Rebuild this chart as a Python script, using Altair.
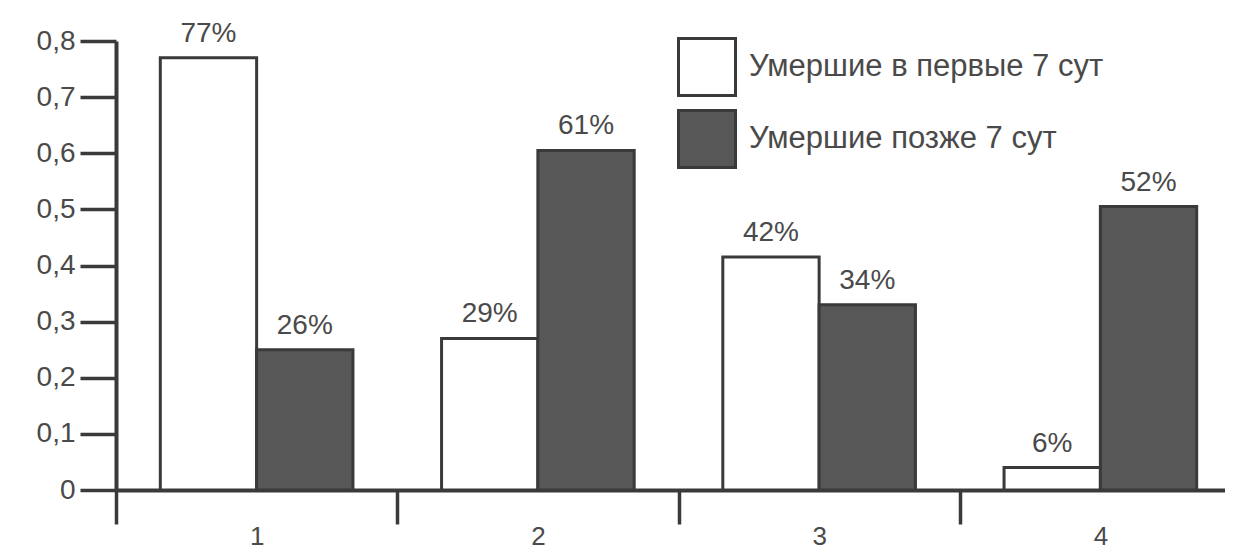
import altair as alt
import pandas as pd

groups = ["1", "2", "3", "4"]
series = ["Умершие в первые 7 сут", "Умершие позже 7 сут"]
early_heights = [0.77, 0.27, 0.415, 0.04]
late_heights = [0.25, 0.605, 0.33, 0.505]
early_labels = ["77%", "29%", "42%", "6%"]
late_labels = ["26%", "61%", "34%", "52%"]
y_ticks = [0, 0.1, 0.2, 0.3, 0.4, 0.5, 0.6, 0.7, 0.8]

rows = []
for i, g in enumerate(groups):
    rows.append(dict(group=g, series=series[0], value=early_heights[i], label=early_labels[i]))
    rows.append(dict(group=g, series=series[1], value=late_heights[i], label=late_labels[i]))
df = pd.DataFrame(rows)

FONT = "Liberation Sans"
AX = "#3a3a3a"
TXT = "#4a4a4a"

x = alt.X(
    "group:N", sort=groups,
    scale=alt.Scale(paddingInner=0, paddingOuter=0, range=[0, 1125]),
    axis=alt.Axis(title=None, labelAngle=0, tickBand="extent", tickSize=34, tickWidth=3.5,
                  tickColor=AX, domainColor=AX, domainWidth=4, labelFontSize=26,
                  labelColor=TXT, labelFont=FONT, labelPadding=-1, grid=False),
)
xo = alt.XOffset("series:N", sort=series, scale=alt.Scale(paddingInner=0, paddingOuter=0.46))
y = alt.Y(
    "value:Q",
    scale=alt.Scale(domain=[0, 0.8], nice=False),
    axis=alt.Axis(title=None, values=y_ticks,
                  labelExpr="datum.value == 0 ? '0' : replace(format(datum.value, '.1f'), '.', ',')",
                  tickSize=36, tickWidth=3.5, tickColor=AX, domainColor=AX, domainWidth=4,
                  labelFontSize=28, labelColor=TXT, labelFont=FONT, labelPadding=5, grid=False),
)
color = alt.Color(
    "series:N", sort=series,
    scale=alt.Scale(domain=series, range=["#ffffff", "#575757"]),
    legend=alt.Legend(title=None, orient="none", legendX=561, legendY=-4, symbolType="square",
                      symbolSize=3249, symbolStrokeColor=AX, symbolStrokeWidth=3,
                      labelFontSize=31, labelFont=FONT, labelColor=TXT, labelOffset=12,
                      rowPadding=2, labelLimit=600, padding=0),
)

bars = alt.Chart(df).mark_bar(stroke=AX, strokeWidth=3).encode(x=x, xOffset=xo, y=y, color=color)
texts = alt.Chart(df).mark_text(dy=-24, fontSize=28, font=FONT, color=TXT).encode(
    x=x, xOffset=xo, y=y, text="label:N"
)

chart = alt.layer(bars, texts).properties(
    width=1109, height=449,
    background="white",
    autosize=alt.AutoSizeParams(type="none"),
    padding={"left": 108, "top": 33, "right": 0, "bottom": 59},
).configure_view(stroke=None)

chart.save("out.html", embed_options={"renderer": "svg", "actions": False})
